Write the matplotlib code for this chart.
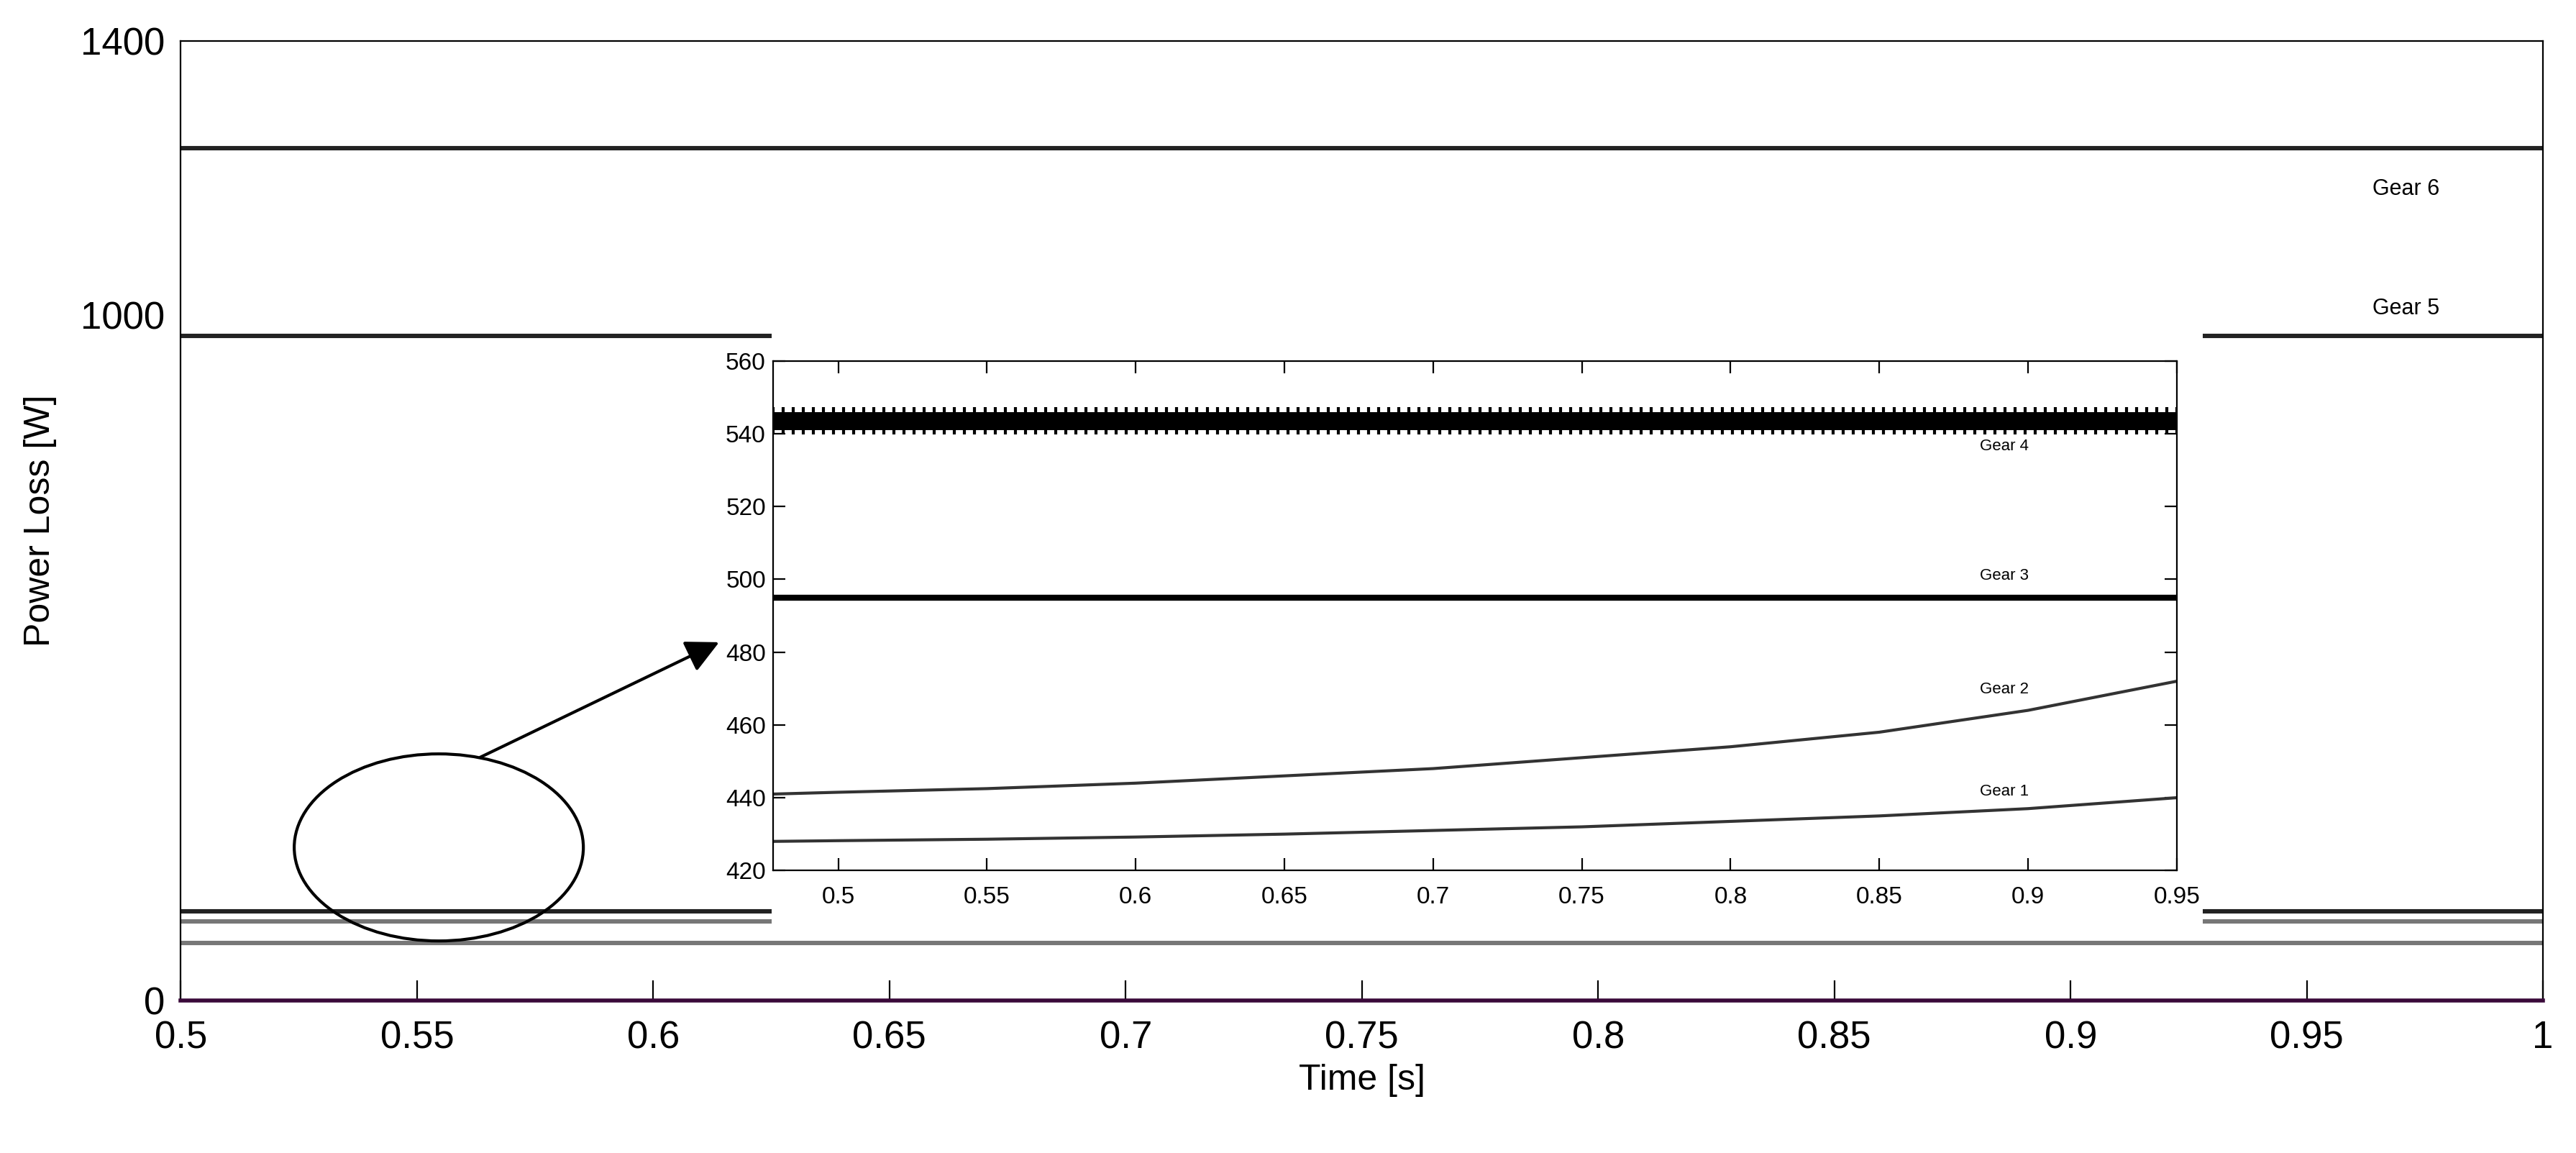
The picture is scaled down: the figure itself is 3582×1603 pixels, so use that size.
import numpy as np
import matplotlib.pyplot as plt
from matplotlib.patches import Ellipse, Rectangle

plt.rcParams['font.family'] = ['Liberation Sans', 'DejaVu Sans']

# main chart levels (W)
main_levels = [1244, 969, 130, 115, 84]
main_colors = ['#222222', '#222222', '#222222', '#777777', '#777777']
main_xticks = [0.5, 0.55, 0.6, 0.65, 0.7, 0.75, 0.8, 0.85, 0.9, 0.95, 1.0]
main_xlabels = ['0.5', '0.55', '0.6', '0.65', '0.7', '0.75', '0.8', '0.85', '0.9', '0.95', '1']
main_yticks = [0, 1000, 1400]

# inset (zoomed) data
t_in = [0.478, 0.5, 0.55, 0.6, 0.65, 0.7, 0.75, 0.8, 0.85, 0.9, 0.95]
gear1 = [428, 428.2, 428.6, 429.2, 430, 431, 432, 433.5, 435, 437, 440]
gear2 = [441, 441.5, 442.5, 444, 446, 448, 451, 454, 458, 464, 472]
gear3 = [495] * len(t_in)
gear4 = [543.5] * len(t_in)
inset_xticks = [0.5, 0.55, 0.6, 0.65, 0.7, 0.75, 0.8, 0.85, 0.9, 0.95]
inset_yticks = [420, 440, 460, 480, 500, 520, 540, 560]

fig = plt.figure(figsize=(17.91, 8.015), dpi=200)
ax = fig.add_axes([0.0702, 0.1325, 0.917, 0.832])
ax.set_xlim(0.5, 1.0)
ax.set_ylim(0, 1400)
for lvl, c in zip(main_levels, main_colors):
    ax.plot([0.5, 1.0], [lvl, lvl], color=c, lw=2.2, zorder=2)
# white area behind the inset hides part of the lines
ax.add_patch(Rectangle((0.625, 98), 0.303, 882, facecolor='white', edgecolor='none', zorder=3))
ax.add_patch(Ellipse((0.5546, 223), 0.0612, 273, fill=False, lw=1.5, zorder=4))
ax.annotate('', xy=(0.6147, 525), xytext=(0.5626, 352),
            arrowprops=dict(arrowstyle='-|>', color='black', lw=1.5, mutation_scale=35), zorder=4)
ax.text(0.971, 1184, 'Gear 6', fontsize=11, ha='center', va='center')
ax.text(0.971, 1009, 'Gear 5', fontsize=11, ha='center', va='center')
ax.set_xticks(main_xticks)
ax.set_xticklabels(main_xlabels)
ax.set_yticks(main_yticks)
ax.tick_params(direction='in', length=10, labelsize=19, top=False, right=False)
ax.tick_params(axis='x', pad=10)
ax.tick_params(axis='y', length=0, pad=8)
ax.spines['bottom'].set_color('#3a0a3a')
ax.spines['bottom'].set_linewidth(2)
ax.set_xlabel('Time [s]', fontsize=18, labelpad=4)
ax.set_ylabel('Power Loss [W]', fontsize=18, labelpad=12)

ins = fig.add_axes([0.300, 0.245, 0.545, 0.442])
ins.set_xlim(0.478, 0.95)
ins.set_ylim(420, 560)
ins.plot(t_in, gear4, color='black', lw=9, zorder=2)
ins.plot(np.linspace(0.478, 0.95, 140), [543.5] * 140, ls='none', marker='|', ms=14, mew=1.5, color='black')
ins.plot(t_in, gear3, color='black', lw=3)
ins.plot(t_in, gear2, color='#333333', lw=1.5)
ins.plot(t_in, gear1, color='#333333', lw=1.5)
ins.text(0.892, 536.5, 'Gear 4', fontsize=8, ha='center', va='center')
ins.text(0.892, 501, 'Gear 3', fontsize=8, ha='center', va='center')
ins.text(0.892, 469.7, 'Gear 2', fontsize=8, ha='center', va='center')
ins.text(0.892, 441.7, 'Gear 1', fontsize=8, ha='center', va='center')
ins.set_xticks(inset_xticks)
ins.set_xticklabels(['0.5', '0.55', '0.6', '0.65', '0.7', '0.75', '0.8', '0.85', '0.9', '0.95'])
ins.set_yticks(inset_yticks)
ins.tick_params(direction='in', length=6, labelsize=12, top=True, right=True)
ins.tick_params(axis='x', pad=8)

fig.savefig('out.png', dpi=200)
